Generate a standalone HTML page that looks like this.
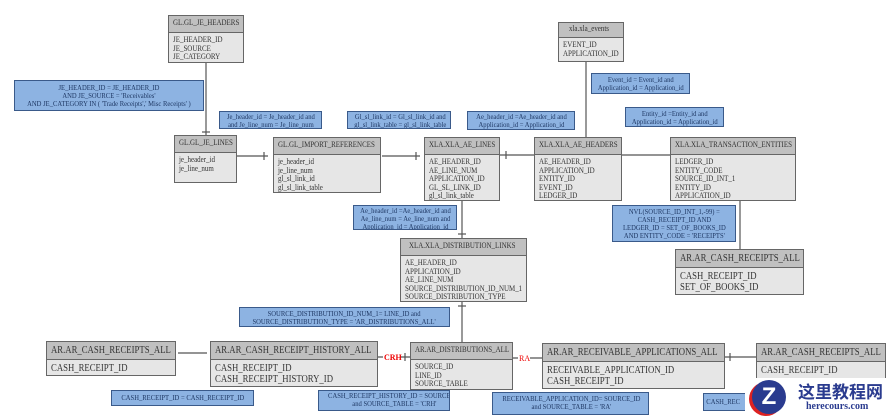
<!DOCTYPE html>
<html><head><meta charset="utf-8"><style>
body{margin:0;width:889px;height:420px;background:#fff;position:relative;overflow:hidden;font-family:"Liberation Serif",serif;color:#333}
.t{position:absolute;border:1.5px solid #666;background:#e6e6e6;box-sizing:border-box;font-size:8px;line-height:8.5px;overflow:hidden}
.t .h{background:#c0c0c0;border-bottom:1.5px solid #666;padding:3px 4px;height:17px;box-sizing:border-box}
.t .b{padding:3px 4px}
.s{display:inline-block;transform:scaleX(.87);transform-origin:left top;white-space:nowrap}
.big{font-size:10.5px;line-height:11px}
.big .h{padding:3px 4px;height:18px}
.big .s{transform:scaleX(.83)}
.n{position:absolute;background:#8db3e2;border:1.5px solid #3a5a8a;box-sizing:border-box;font-size:7.5px;line-height:8px;color:#1f3864;text-align:center;padding:1px 0;white-space:nowrap;overflow:hidden}
.n span{display:inline-block;transform:scaleX(.88);transform-origin:center top}
svg{position:absolute;left:0;top:0}
</style></head><body>
<svg width="889" height="420"><g stroke="#555" stroke-width="1.2" fill="none">
<line x1="206" y1="63" x2="206" y2="135"/>
<line x1="237" y1="156" x2="268" y2="156"/>
<line x1="382" y1="156" x2="420" y2="156"/>
<line x1="500" y1="155" x2="534" y2="155"/>
<line x1="586" y1="62" x2="586" y2="137"/>
<line x1="622" y1="155" x2="670" y2="155"/>
<line x1="740" y1="201" x2="740" y2="249"/>
<line x1="462" y1="201" x2="462" y2="238"/>
<line x1="462" y1="302" x2="462" y2="342"/>
<line x1="178" y1="353" x2="207" y2="353"/>
<line x1="378" y1="357" x2="410" y2="357"/>
<line x1="513" y1="358" x2="542" y2="358"/>
<line x1="725" y1="357" x2="757" y2="357"/>
<line x1="202" y1="132" x2="210" y2="132"/>
<line x1="264" y1="152" x2="264" y2="160"/>
<line x1="416" y1="152" x2="416" y2="160"/>
<line x1="506" y1="151" x2="506" y2="159"/>
<line x1="458" y1="234" x2="466" y2="234"/>
<line x1="458" y1="306" x2="466" y2="306"/>
<line x1="405" y1="353" x2="405" y2="361"/>
<line x1="730" y1="353" x2="730" y2="361"/>
</g>
<rect x="383" y="353" width="17" height="8" fill="#fff"/>
<text x="384" y="360" font-family="Liberation Serif" font-size="8" font-weight="bold" fill="#e00">CRH</text>
<rect x="518" y="354" width="12" height="8" fill="#fff"/>
<text x="519" y="361" font-family="Liberation Serif" font-size="8" fill="#e00">RA</text>
</svg>

<div class="t" style="left:168px;top:15px;width:76px;height:48px"><div class="h"><span class="s">GL.GL_JE_HEADERS</span></div><div class="b"><span class="s">JE_HEADER_ID<br>JE_SOURCE<br>JE_CATEGORY</span></div></div>
<div class="n" style="left:14px;top:80px;width:190px;height:31px;padding-top:3px"><span>JE_HEADER_ID = JE_HEADER_ID<br>AND JE_SOURCE = 'Receivables'<br>AND JE_CATEGORY IN ( 'Trade Receipts',' Misc Receipts' )</span></div>
<div class="n" style="left:219px;top:111px;width:103px;height:18px"><span>Je_header_id = Je_header_id and<br>and Je_line_num = Je_line_num</span></div>
<div class="n" style="left:347px;top:111px;width:104px;height:18px"><span>Gl_sl_link_id = Gl_sl_link_id and<br>gl_sl_link_table = gl_sl_link_table</span></div>
<div class="n" style="left:467px;top:111px;width:108px;height:19px"><span>Ae_header_id =Ae_header_id and<br>Application_id = Application_id</span></div>
<div class="n" style="left:591px;top:73px;width:99px;height:21px;padding-top:2px"><span>Event_id = Event_id and<br>Application_id = Application_id</span></div>
<div class="n" style="left:625px;top:107px;width:99px;height:20px;padding-top:2px"><span>Entity_id =Entity_id and<br>Application_id = Application_id</span></div>
<div class="t" style="left:174px;top:135px;width:63px;height:48px"><div class="h"><span class="s">GL.GL_JE_LINES</span></div><div class="b"><span class="s">je_header_id<br>je_line_num</span></div></div>
<div class="t" style="left:273px;top:137px;width:108px;height:56px"><div class="h"><span class="s">GL.GL_IMPORT_REFERENCES</span></div><div class="b"><span class="s">je_header_id<br>je_line_num<br>gl_sl_link_id<br>gl_sl_link_table</span></div></div>
<div class="t" style="left:424px;top:137px;width:76px;height:64px"><div class="h"><span class="s">XLA.XLA_AE_LINES</span></div><div class="b"><span class="s">AE_HEADER_ID<br>AE_LINE_NUM<br>APPLICATION_ID<br>GL_SL_LINK_ID<br>gl_sl_link_table</span></div></div>
<div class="t" style="left:534px;top:137px;width:88px;height:64px"><div class="h"><span class="s">XLA.XLA_AE_HEADERS</span></div><div class="b"><span class="s">AE_HEADER_ID<br>APPLICATION_ID<br>ENTITY_ID<br>EVENT_ID<br>LEDGER_ID</span></div></div>
<div class="t" style="left:558px;top:22px;width:66px;height:40px"><div class="h" style="height:15px;padding:2px 10px"><span class="s">xla.xla_events</span></div><div class="b"><span class="s">EVENT_ID<br>APPLICATION_ID</span></div></div>
<div class="t" style="left:670px;top:137px;width:126px;height:64px"><div class="h"><span class="s">XLA.XLA_TRANSACTION_ENTITIES</span></div><div class="b"><span class="s">LEDGER_ID<br>ENTITY_CODE<br>SOURCE_ID_INT_1<br>ENTITY_ID<br>APPLICATION_ID</span></div></div>
<div class="n" style="left:612px;top:205px;width:124px;height:37px;padding-top:2px"><span>NVL(SOURCE_ID_INT_1,-99) =<br>CASH_RECEIPT_ID AND<br>LEDGER_ID = SET_OF_BOOKS_ID<br>AND ENTITY_CODE = 'RECEIPTS'</span></div>
<div class="t big" style="left:675px;top:249px;width:129px;height:46px"><div class="h"><span class="s">AR.AR_CASH_RECEIPTS_ALL</span></div><div class="b"><span class="s">CASH_RECEIPT_ID<br>SET_OF_BOOKS_ID</span></div></div>
<div class="n" style="left:353px;top:205px;width:104px;height:25px"><span>Ae_header_id =Ae_header_id and<br>Ae_line_num = Ae_line_num and<br>Application_id = Application_id</span></div>
<div class="t" style="left:400px;top:238px;width:127px;height:64px"><div class="h" style="padding-left:8px"><span class="s">XLA.XLA_DISTRIBUTION_LINKS</span></div><div class="b"><span class="s">AE_HEADER_ID<br>APPLICATION_ID<br>AE_LINE_NUM<br>SOURCE_DISTRIBUTION_ID_NUM_1<br>SOURCE_DISTRIBUTION_TYPE</span></div></div>
<div class="n" style="left:239px;top:307px;width:211px;height:20px;padding-top:2px"><span>SOURCE_DISTRIBUTION_ID_NUM_1= LINE_ID and<br>SOURCE_DISTRIBUTION_TYPE = 'AR_DISTRIBUTIONS_ALL'</span></div>
<div class="t big" style="left:46px;top:341px;width:130px;height:35px"><div class="h"><span class="s">AR.AR_CASH_RECEIPTS_ALL</span></div><div class="b"><span class="s">CASH_RECEIPT_ID</span></div></div>
<div class="t big" style="left:210px;top:341px;width:168px;height:46px"><div class="h"><span class="s">AR.AR_CASH_RECEIPT_HISTORY_ALL</span></div><div class="b"><span class="s">CASH_RECEIPT_ID<br>CASH_RECEIPT_HISTORY_ID</span></div></div>
<div class="t" style="left:410px;top:342px;width:103px;height:48px"><div class="h"><span class="s">AR.AR_DISTRIBUTIONS_ALL</span></div><div class="b"><span class="s">SOURCE_ID<br>LINE_ID<br>SOURCE_TABLE</span></div></div>
<div class="t big" style="left:542px;top:343px;width:183px;height:46px"><div class="h"><span class="s">AR.AR_RECEIVABLE_APPLICATIONS_ALL</span></div><div class="b"><span class="s">RECEIVABLE_APPLICATION_ID<br>CASH_RECEIPT_ID</span></div></div>
<div class="t big" style="left:756px;top:343px;width:130px;height:46px"><div class="h"><span class="s">AR.AR_CASH_RECEIPTS_ALL</span></div><div class="b"><span class="s">CASH_RECEIPT_ID</span></div></div>
<div class="n" style="left:111px;top:390px;width:143px;height:16px;padding-top:3px"><span>CASH_RECEIPT_ID = CASH_RECEIPT_ID</span></div>
<div class="n" style="left:318px;top:390px;width:132px;height:21px"><span>CASH_RECEIPT_HISTORY_ID = SOURCE_ID<br>and SOURCE_TABLE = 'CRH'</span></div>
<div class="n" style="left:492px;top:392px;width:157px;height:23px;padding-top:2px"><span>RECEIVABLE_APPLICATION_ID= SOURCE_ID<br>and SOURCE_TABLE = 'RA'</span></div>
<div class="n" style="left:703px;top:393px;width:60px;height:18px;padding-top:4px;text-align:left"><span>CASH_REC</span></div>
<div style="position:absolute;left:745px;top:378px;width:144px;height:42px;background:#fff"></div>
<div style="position:absolute;left:752px;top:380px;width:34px;height:34px;border-radius:50%;background:#2a3b8f;color:#fff;font:bold 24px 'Liberation Sans',sans-serif;text-align:center;line-height:34px;box-shadow:-3px 2px 0 #d22">Z</div>
<div style="position:absolute;left:798px;top:378px;font:bold 17px 'Liberation Sans','Noto Sans CJK SC',sans-serif;color:#2a3b8f">这里教程网</div>
<div style="position:absolute;left:806px;top:401px;font:bold 10px 'Liberation Serif',serif;color:#2a3b8f">herecours.com</div>
</body></html>
